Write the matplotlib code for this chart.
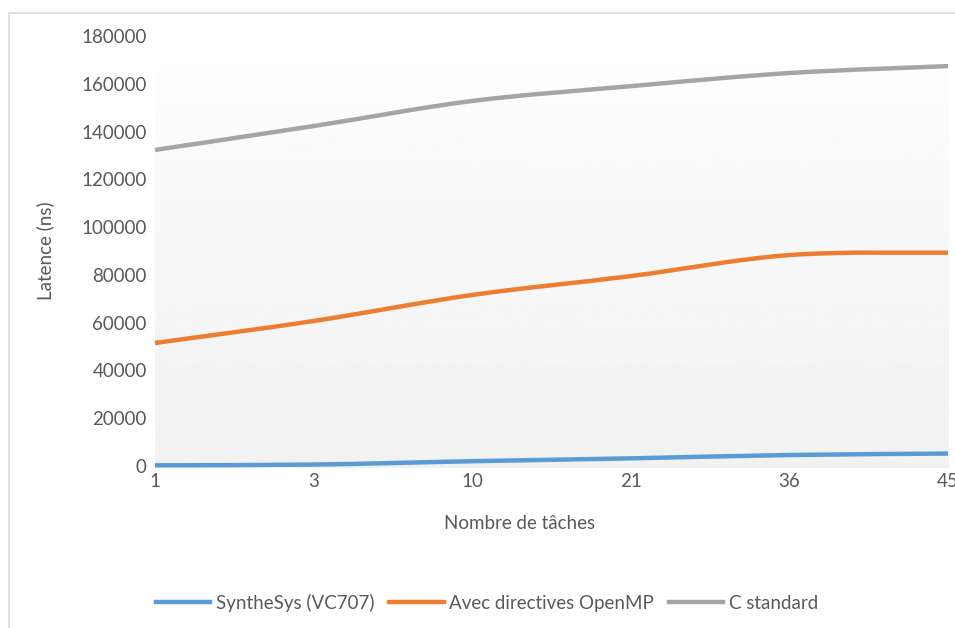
import numpy as np
import matplotlib.pyplot as plt
from matplotlib.path import Path
from matplotlib.patches import PathPatch, Rectangle
from matplotlib.lines import Line2D

plt.rcParams['font.family'] = ['Lato', 'DejaVu Sans']

categories = ['1', '3', '10', '21', '36', '45']
synthesys = [300, 600, 2000, 3200, 4600, 5200]
openmp = [51500, 60700, 71600, 79500, 88300, 89300]
c_standard = [132300, 142300, 152800, 159000, 164500, 167400]

names = ['SyntheSys (VC707)', 'Avec directives OpenMP', 'C standard']
colors = ['#5B9BD5', '#ED7D31', '#A5A5A5']
text_color = '#595959'


def smooth_path(xs, ys):
    # Excel-like smoothed line as cubic Bezier segments
    pts = list(zip(xs, ys))
    ext = [pts[0]] + pts + [pts[-1]]
    verts = [pts[0]]
    codes = [Path.MOVETO]
    for i in range(1, len(ext) - 2):
        p0, p1, p2, p3 = ext[i - 1], ext[i], ext[i + 1], ext[i + 2]
        c1 = (p1[0] + (p2[0] - p0[0]) / 6, p1[1] + (p2[1] - p0[1]) / 6)
        c2 = (p2[0] - (p3[0] - p1[0]) / 6, p2[1] - (p3[1] - p1[1]) / 6)
        verts += [c1, c2, p2]
        codes += [Path.CURVE4] * 3
    return Path(verts, codes)


fig = plt.figure(figsize=(9.55, 6.28), dpi=100)
ax = fig.add_axes([155 / 955, 1 - 466 / 628, 793 / 955, 430 / 628])

# chart border
fig.patches.append(Rectangle((9 / 955, -0.1), 1.2, 1.1 - 13 / 628, transform=fig.transFigure,
                             fill=False, edgecolor='#d9d9d9', linewidth=1.2))

x = np.arange(len(categories))
grad = np.linspace(0.992, 0.945, 256).reshape(-1, 1)
ax.imshow(grad, cmap='gray', vmin=0, vmax=1, aspect='auto',
          extent=(0, len(categories) - 1, -800, 166000), origin='upper', zorder=0, clip_on=False)

for vals, col in zip([synthesys, openmp, c_standard], colors):
    ax.add_patch(PathPatch(smooth_path(x, vals), facecolor='none', edgecolor=col,
                           linewidth=3.2, capstyle='butt', clip_on=False, zorder=3))

ax.set_xlim(0, len(categories) - 1)
ax.set_ylim(0, 180000)
ax.set_xticks(x)
ax.set_xticklabels(categories)
ax.set_yticks(np.arange(0, 180001, 20000))
for s in ax.spines.values():
    s.set_visible(False)
ax.tick_params(length=0, labelsize=13.5, colors=text_color)
ax.tick_params(axis='y', pad=6)
ax.tick_params(axis='x', pad=5)

ax.set_ylabel('Latence (ns)', fontsize=13.5, color=text_color)
ax.yaxis.set_label_coords(-0.139, 0.5)
ax.set_xlabel('Nombre de tâches', fontsize=13.5, color=text_color)
ax.xaxis.set_label_coords(0.46, -0.133)
ax.xaxis.label.set_va('center')
ax.yaxis.label.set_va('center')

handles = [Line2D([], [], color=c, linewidth=3.2) for c in colors]
fig.legend(handles, names, loc='center', bbox_to_anchor=(0.51, 1 - 603 / 628), ncol=3,
           frameon=False, fontsize=13.5, labelcolor=text_color, handlelength=2.9,
           handletextpad=0.3, columnspacing=0.8)

fig.savefig('out.png', dpi=100)
